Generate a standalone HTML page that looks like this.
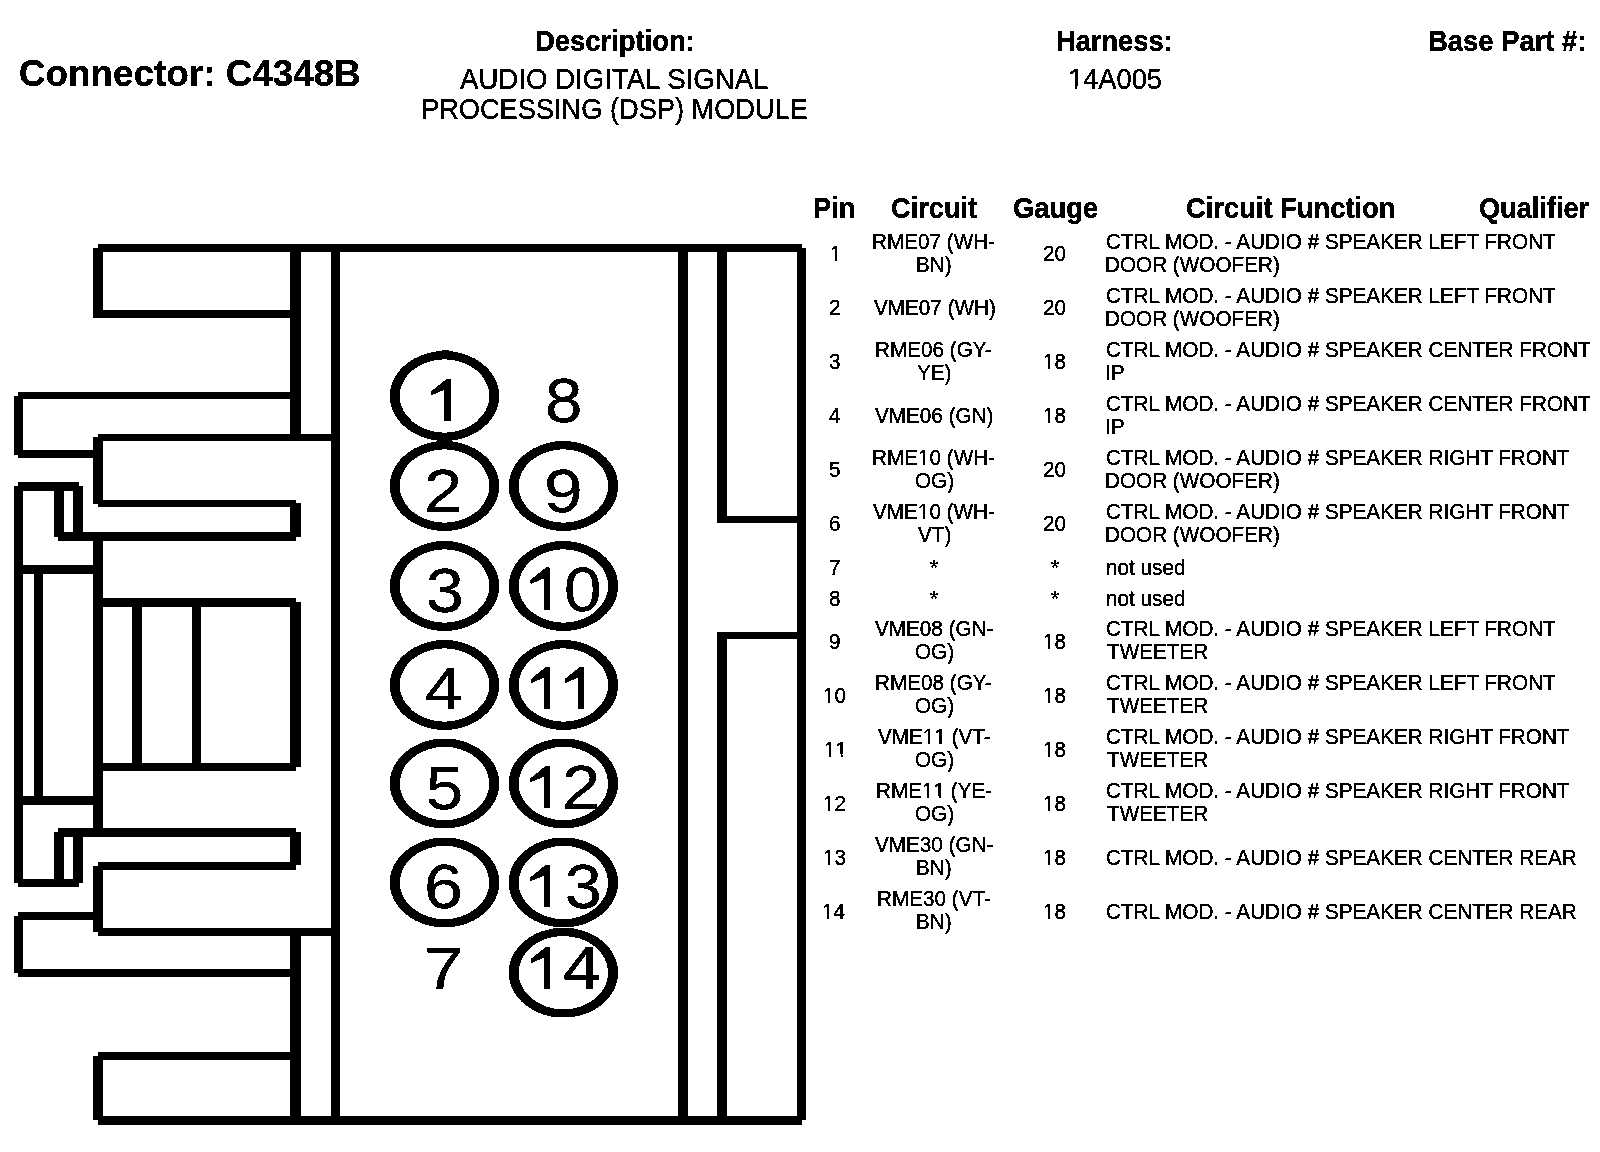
<!DOCTYPE html>
<html><head><meta charset="utf-8"><title>Connector C4348B</title>
<style>
html,body{margin:0;padding:0;background:#fff;}
body{width:1600px;height:1152px;position:relative;overflow:hidden;}
svg{position:absolute;left:0;top:0;}
.o{position:relative}.o::before,.o::after{content:'';position:absolute;background:#fff;bottom:0.16em;height:0.16em}.o::before{left:0.05em;width:0.22em}.o::after{left:0.325em;width:0.225em}
.t{position:absolute;font-family:"Liberation Sans",sans-serif;line-height:1;white-space:pre;color:#000;transform-origin:0 0;}
#pg{position:absolute;left:0;top:0;width:1600px;height:1152px;background:#fff;filter:url(#bw);}
</style></head><body>
<svg width="0" height="0" style="position:absolute"><filter id="bw" x="0" y="0" width="100%" height="100%" color-interpolation-filters="sRGB"><feComponentTransfer><feFuncR type="discrete" tableValues="0 0 0 1"/><feFuncG type="discrete" tableValues="0 0 0 1"/><feFuncB type="discrete" tableValues="0 0 0 1"/></feComponentTransfer></filter></svg>
<div id="pg">
<svg width="1600" height="1152" viewBox="0 0 1600 1152">
<rect x="98" y="244" width="704" height="8"/>
<rect x="98" y="1116" width="704" height="9"/>
<rect x="797" y="248" width="9" height="872"/>
<rect x="678" y="244" width="10" height="881"/>
<rect x="717" y="244" width="10" height="277"/>
<rect x="717" y="634" width="10" height="491"/>
<rect x="717" y="516" width="89" height="7"/>
<rect x="717" y="632" width="89" height="7"/>
<rect x="331" y="244" width="9" height="881"/>
<rect x="290" y="244" width="11" height="197"/>
<rect x="290" y="928" width="11" height="197"/>
<rect x="93" y="248" width="10" height="70"/>
<rect x="98" y="310" width="192" height="8"/>
<rect x="18" y="392" width="272" height="7"/>
<rect x="14" y="396" width="9" height="59"/>
<rect x="18" y="450" width="75" height="8"/>
<rect x="98" y="434" width="233" height="7"/>
<rect x="93" y="437" width="10" height="67"/>
<rect x="98" y="500" width="198" height="7"/>
<rect x="290" y="503" width="11" height="34"/>
<rect x="58" y="532" width="238" height="9"/>
<rect x="18" y="482" width="61" height="9"/>
<rect x="14" y="486" width="9" height="397"/>
<rect x="54" y="486" width="10" height="51"/>
<rect x="73" y="486" width="10" height="51"/>
<rect x="93" y="541" width="10" height="291"/>
<rect x="14" y="565" width="79" height="9"/>
<rect x="34" y="574" width="9" height="222"/>
<rect x="14" y="796" width="79" height="9"/>
<rect x="93" y="598" width="203" height="9"/>
<rect x="290" y="602" width="11" height="165"/>
<rect x="93" y="763" width="203" height="8"/>
<rect x="132" y="607" width="10" height="156"/>
<rect x="192" y="607" width="9" height="156"/>
<rect x="58" y="828" width="238" height="9"/>
<rect x="290" y="832" width="11" height="33"/>
<rect x="98" y="862" width="198" height="8"/>
<rect x="54" y="832" width="10" height="51"/>
<rect x="73" y="832" width="10" height="51"/>
<rect x="18" y="879" width="61" height="8"/>
<rect x="93" y="866" width="10" height="66"/>
<rect x="98" y="928" width="233" height="8"/>
<rect x="18" y="912" width="75" height="8"/>
<rect x="14" y="916" width="9" height="57"/>
<rect x="18" y="969" width="272" height="8"/>
<rect x="98" y="1052" width="192" height="8"/>
<rect x="93" y="1056" width="10" height="64"/>
<ellipse cx="444.5" cy="396" rx="54.5" ry="44.7"/>
<ellipse cx="444.5" cy="396" rx="45" ry="36.9" fill="#fff"/>
<ellipse cx="444.5" cy="486" rx="54.5" ry="44.7"/>
<ellipse cx="444.5" cy="486" rx="45" ry="36.9" fill="#fff"/>
<ellipse cx="444.5" cy="586" rx="54.5" ry="44.7"/>
<ellipse cx="444.5" cy="586" rx="45" ry="36.9" fill="#fff"/>
<ellipse cx="444.5" cy="685" rx="54.5" ry="44.7"/>
<ellipse cx="444.5" cy="685" rx="45" ry="36.9" fill="#fff"/>
<ellipse cx="444.5" cy="783.5" rx="54.5" ry="44.7"/>
<ellipse cx="444.5" cy="783.5" rx="45" ry="36.9" fill="#fff"/>
<ellipse cx="444.5" cy="882.5" rx="54.5" ry="44.7"/>
<ellipse cx="444.5" cy="882.5" rx="45" ry="36.9" fill="#fff"/>
<ellipse cx="563.4" cy="486" rx="54.5" ry="44.7"/>
<ellipse cx="563.4" cy="486" rx="45" ry="36.9" fill="#fff"/>
<ellipse cx="563.4" cy="586" rx="54.5" ry="44.7"/>
<ellipse cx="563.4" cy="586" rx="45" ry="36.9" fill="#fff"/>
<ellipse cx="563.4" cy="685" rx="54.5" ry="44.7"/>
<ellipse cx="563.4" cy="685" rx="45" ry="36.9" fill="#fff"/>
<ellipse cx="563.4" cy="783.5" rx="54.5" ry="44.7"/>
<ellipse cx="563.4" cy="783.5" rx="45" ry="36.9" fill="#fff"/>
<ellipse cx="563.4" cy="882.5" rx="54.5" ry="44.7"/>
<ellipse cx="563.4" cy="882.5" rx="45" ry="36.9" fill="#fff"/>
<ellipse cx="563.4" cy="972.6" rx="54.5" ry="44.7"/>
<ellipse cx="563.4" cy="972.6" rx="45" ry="36.9" fill="#fff"/>
<rect x="442" y="350" width="7" height="3"/>
<polygon points="446.70,379.00 450.60,379.00 450.60,420.90 444.60,420.90 444.60,389.60 431.50,395.00 431.50,391.30"/>
<polygon points="545.90,567.70 549.80,567.70 549.80,609.60 543.80,609.60 543.80,578.30 530.70,583.70 530.70,580.00"/>
<polygon points="546.10,667.00 550.00,667.00 550.00,708.90 544.00,708.90 544.00,677.60 530.90,683.00 530.90,679.30"/>
<polygon points="580.05,667.00 583.95,667.00 583.95,708.90 577.95,708.90 577.95,677.60 564.85,683.00 564.85,679.30"/>
<polygon points="545.90,766.00 549.80,766.00 549.80,807.90 543.80,807.90 543.80,776.60 530.70,782.00 530.70,778.30"/>
<polygon points="545.90,865.00 549.80,865.00 549.80,906.90 543.80,906.90 543.80,875.60 530.70,881.00 530.70,877.30"/>
<polygon points="546.00,947.00 549.90,947.00 549.90,988.90 543.90,988.90 543.90,957.60 530.80,963.00 530.80,959.30"/>
</svg>
<div class="t" style="left:18.74px;top:55.90px;font-size:36.48px;font-weight:bold;transform:scaleX(1.0101)">Connector: C4348B</div>
<div class="t" style="left:535.01px;top:27.25px;font-size:29.07px;font-weight:bold;transform:scaleX(0.9430)">Description:</div>
<div class="t" style="left:460.25px;top:65.00px;font-size:29.07px;font-weight:normal;transform:scaleX(0.9502)">AUDIO DIGITAL SIGNAL</div>
<div class="t" style="left:421.20px;top:95.00px;font-size:28.71px;font-weight:normal;transform:scaleX(0.9477)">PROCESSING (DSP) MODULE</div>
<div class="t" style="left:1055.62px;top:27.00px;font-size:29.07px;font-weight:bold;transform:scaleX(0.9375)">Harness:</div>
<div class="t" style="left:1067.70px;top:65.40px;font-size:28.63px;font-weight:normal;transform:scaleX(0.9521)"><span class="o">1</span>4A005</div>
<div class="t" style="left:1427.86px;top:27.00px;font-size:29.07px;font-weight:bold;transform:scaleX(0.9433)">Base Part #:</div>
<div class="t" style="left:812.88px;top:194.10px;font-size:29.07px;font-weight:bold;transform:scaleX(0.9369)">Pin</div>
<div class="t" style="left:891.16px;top:194.10px;font-size:29.07px;font-weight:bold;transform:scaleX(0.9357)">Circuit</div>
<div class="t" style="left:1012.81px;top:194.10px;font-size:29.07px;font-weight:bold;transform:scaleX(0.9410)">Gauge</div>
<div class="t" style="left:1185.96px;top:194.10px;font-size:29.07px;font-weight:bold;transform:scaleX(0.9402)">Circuit Function</div>
<div class="t" style="left:1478.77px;top:194.10px;font-size:29.07px;font-weight:bold;transform:scaleX(0.9342)">Qualifier</div>
<div class="t" style="left:423.57px;top:462.30px;font-size:60.17px;transform:scaleX(1.1429)">2</div>
<div class="t" style="left:425.53px;top:558.60px;font-size:62.65px;transform:scaleX(1.0833)">3</div>
<div class="t" style="left:424.86px;top:658.90px;font-size:59.3px;transform:scaleX(1.1400)">4</div>
<div class="t" style="left:425.53px;top:757.00px;font-size:61.63px;transform:scaleX(1.0833)">5</div>
<div class="t" style="left:423.57px;top:855.00px;font-size:63.08px;transform:scaleX(1.1100)">6</div>
<div class="t" style="left:424.00px;top:940.00px;font-size:59.01px;transform:scaleX(1.2000)">7</div>
<div class="t" style="left:544.53px;top:367.90px;font-size:63.66px;transform:scaleX(1.0567)">8</div>
<div class="t" style="left:544.30px;top:460.30px;font-size:61.34px;transform:scaleX(1.1321)">9</div>
<div class="t" style="left:563.66px;top:557.70px;font-size:62.94px;transform:scaleX(1.0710)">0</div>
<div class="t" style="left:562.13px;top:756.00px;font-size:63.08px;transform:scaleX(1.0897)">2</div>
<div class="t" style="left:564.51px;top:855.00px;font-size:63.08px;transform:scaleX(1.0452)">3</div>
<div class="t" style="left:562.88px;top:938.00px;font-size:61.05px;transform:scaleX(1.1210)">4</div>
<div class="t" style="left:829.90px;top:243.30px;font-size:22.5px;transform:scaleX(0.92)"><span class="o">1</span></div>
<div class="t" style="left:1043.20px;top:243.30px;font-size:22.5px;transform:scaleX(0.92)">20</div>
<div class="t" style="left:871.90px;top:231.10px;font-size:22.5px;transform:scaleX(0.92)">RME07 (WH-</div>
<div class="t" style="left:915.60px;top:253.60px;font-size:22.5px;transform:scaleX(0.92)">BN)</div>
<div class="t" style="left:1106.08px;top:231.10px;font-size:22.5px;transform:scaleX(0.92)">CTRL MOD. - AUDIO # SPEAKER LEFT FRONT</div>
<div class="t" style="left:1105.16px;top:253.60px;font-size:22.5px;transform:scaleX(0.92)">DOOR (WOOFER)</div>
<div class="t" style="left:828.52px;top:297.30px;font-size:22.5px;transform:scaleX(0.92)">2</div>
<div class="t" style="left:1043.20px;top:297.30px;font-size:22.5px;transform:scaleX(0.92)">20</div>
<div class="t" style="left:873.74px;top:297.30px;font-size:22.5px;transform:scaleX(0.92)">VME07 (WH)</div>
<div class="t" style="left:1106.08px;top:285.10px;font-size:22.5px;transform:scaleX(0.92)">CTRL MOD. - AUDIO # SPEAKER LEFT FRONT</div>
<div class="t" style="left:1105.16px;top:307.60px;font-size:22.5px;transform:scaleX(0.92)">DOOR (WOOFER)</div>
<div class="t" style="left:828.52px;top:351.30px;font-size:22.5px;transform:scaleX(0.92)">3</div>
<div class="t" style="left:1042.74px;top:351.30px;font-size:22.5px;transform:scaleX(0.92)"><span class="o">1</span>8</div>
<div class="t" style="left:875.12px;top:339.10px;font-size:22.5px;transform:scaleX(0.92)">RME06 (GY-</div>
<div class="t" style="left:916.98px;top:361.60px;font-size:22.5px;transform:scaleX(0.92)">YE)</div>
<div class="t" style="left:1106.08px;top:339.10px;font-size:22.5px;transform:scaleX(0.92)">CTRL MOD. - AUDIO # SPEAKER CENTER FRONT</div>
<div class="t" style="left:1105.16px;top:361.60px;font-size:22.5px;transform:scaleX(0.92)">IP</div>
<div class="t" style="left:828.98px;top:405.30px;font-size:22.5px;transform:scaleX(0.92)">4</div>
<div class="t" style="left:1042.74px;top:405.30px;font-size:22.5px;transform:scaleX(0.92)"><span class="o">1</span>8</div>
<div class="t" style="left:875.12px;top:405.30px;font-size:22.5px;transform:scaleX(0.92)">VME06 (GN)</div>
<div class="t" style="left:1106.08px;top:393.10px;font-size:22.5px;transform:scaleX(0.92)">CTRL MOD. - AUDIO # SPEAKER CENTER FRONT</div>
<div class="t" style="left:1105.16px;top:415.60px;font-size:22.5px;transform:scaleX(0.92)">IP</div>
<div class="t" style="left:828.52px;top:459.30px;font-size:22.5px;transform:scaleX(0.92)">5</div>
<div class="t" style="left:1043.20px;top:459.30px;font-size:22.5px;transform:scaleX(0.92)">20</div>
<div class="t" style="left:871.90px;top:447.10px;font-size:22.5px;transform:scaleX(0.92)">RME<span class="o">1</span>0 (WH-</div>
<div class="t" style="left:914.68px;top:469.60px;font-size:22.5px;transform:scaleX(0.92)">OG)</div>
<div class="t" style="left:1106.08px;top:447.10px;font-size:22.5px;transform:scaleX(0.92)">CTRL MOD. - AUDIO # SPEAKER RIGHT FRONT</div>
<div class="t" style="left:1105.16px;top:469.60px;font-size:22.5px;transform:scaleX(0.92)">DOOR (WOOFER)</div>
<div class="t" style="left:828.52px;top:513.30px;font-size:22.5px;transform:scaleX(0.92)">6</div>
<div class="t" style="left:1043.20px;top:513.30px;font-size:22.5px;transform:scaleX(0.92)">20</div>
<div class="t" style="left:873.28px;top:501.10px;font-size:22.5px;transform:scaleX(0.92)">VME<span class="o">1</span>0 (WH-</div>
<div class="t" style="left:917.90px;top:523.60px;font-size:22.5px;transform:scaleX(0.92)">VT)</div>
<div class="t" style="left:1106.08px;top:501.10px;font-size:22.5px;transform:scaleX(0.92)">CTRL MOD. - AUDIO # SPEAKER RIGHT FRONT</div>
<div class="t" style="left:1105.16px;top:523.60px;font-size:22.5px;transform:scaleX(0.92)">DOOR (WOOFER)</div>
<div class="t" style="left:828.52px;top:557.00px;font-size:22.5px;transform:scaleX(0.92)">7</div>
<div class="t" style="left:1051.02px;top:557.00px;font-size:22.5px;transform:scaleX(0.92)">*</div>
<div class="t" style="left:930.32px;top:557.00px;font-size:22.5px;transform:scaleX(0.92)">*</div>
<div class="t" style="left:1106.08px;top:557.00px;font-size:22.5px;transform:scaleX(0.92)">not used</div>
<div class="t" style="left:828.52px;top:587.50px;font-size:22.5px;transform:scaleX(0.92)">8</div>
<div class="t" style="left:1051.02px;top:587.50px;font-size:22.5px;transform:scaleX(0.92)">*</div>
<div class="t" style="left:930.32px;top:587.50px;font-size:22.5px;transform:scaleX(0.92)">*</div>
<div class="t" style="left:1106.08px;top:587.50px;font-size:22.5px;transform:scaleX(0.92)">not used</div>
<div class="t" style="left:828.52px;top:630.50px;font-size:22.5px;transform:scaleX(0.92)">9</div>
<div class="t" style="left:1042.74px;top:630.50px;font-size:22.5px;transform:scaleX(0.92)"><span class="o">1</span>8</div>
<div class="t" style="left:875.12px;top:618.30px;font-size:22.5px;transform:scaleX(0.92)">VME08 (GN-</div>
<div class="t" style="left:914.68px;top:640.80px;font-size:22.5px;transform:scaleX(0.92)">OG)</div>
<div class="t" style="left:1106.08px;top:618.30px;font-size:22.5px;transform:scaleX(0.92)">CTRL MOD. - AUDIO # SPEAKER LEFT FRONT</div>
<div class="t" style="left:1107.00px;top:640.80px;font-size:22.5px;transform:scaleX(0.92)">TWEETER</div>
<div class="t" style="left:822.54px;top:684.50px;font-size:22.5px;transform:scaleX(0.92)"><span class="o">1</span>0</div>
<div class="t" style="left:1042.74px;top:684.50px;font-size:22.5px;transform:scaleX(0.92)"><span class="o">1</span>8</div>
<div class="t" style="left:875.12px;top:672.30px;font-size:22.5px;transform:scaleX(0.92)">RME08 (GY-</div>
<div class="t" style="left:914.68px;top:694.80px;font-size:22.5px;transform:scaleX(0.92)">OG)</div>
<div class="t" style="left:1106.08px;top:672.30px;font-size:22.5px;transform:scaleX(0.92)">CTRL MOD. - AUDIO # SPEAKER LEFT FRONT</div>
<div class="t" style="left:1107.00px;top:694.80px;font-size:22.5px;transform:scaleX(0.92)">TWEETER</div>
<div class="t" style="left:824.38px;top:738.50px;font-size:22.5px;transform:scaleX(0.92)"><span class="o">1</span><span class="o">1</span></div>
<div class="t" style="left:1042.74px;top:738.50px;font-size:22.5px;transform:scaleX(0.92)"><span class="o">1</span>8</div>
<div class="t" style="left:877.88px;top:726.30px;font-size:22.5px;transform:scaleX(0.92)">VME<span class="o">1</span><span class="o">1</span> (VT-</div>
<div class="t" style="left:914.68px;top:748.80px;font-size:22.5px;transform:scaleX(0.92)">OG)</div>
<div class="t" style="left:1106.08px;top:726.30px;font-size:22.5px;transform:scaleX(0.92)">CTRL MOD. - AUDIO # SPEAKER RIGHT FRONT</div>
<div class="t" style="left:1107.00px;top:748.80px;font-size:22.5px;transform:scaleX(0.92)">TWEETER</div>
<div class="t" style="left:822.54px;top:792.50px;font-size:22.5px;transform:scaleX(0.92)"><span class="o">1</span>2</div>
<div class="t" style="left:1042.74px;top:792.50px;font-size:22.5px;transform:scaleX(0.92)"><span class="o">1</span>8</div>
<div class="t" style="left:875.58px;top:780.30px;font-size:22.5px;transform:scaleX(0.92)">RME<span class="o">1</span><span class="o">1</span> (YE-</div>
<div class="t" style="left:914.68px;top:802.80px;font-size:22.5px;transform:scaleX(0.92)">OG)</div>
<div class="t" style="left:1106.08px;top:780.30px;font-size:22.5px;transform:scaleX(0.92)">CTRL MOD. - AUDIO # SPEAKER RIGHT FRONT</div>
<div class="t" style="left:1107.00px;top:802.80px;font-size:22.5px;transform:scaleX(0.92)">TWEETER</div>
<div class="t" style="left:822.54px;top:846.50px;font-size:22.5px;transform:scaleX(0.92)"><span class="o">1</span>3</div>
<div class="t" style="left:1042.74px;top:846.50px;font-size:22.5px;transform:scaleX(0.92)"><span class="o">1</span>8</div>
<div class="t" style="left:875.12px;top:834.30px;font-size:22.5px;transform:scaleX(0.92)">VME30 (GN-</div>
<div class="t" style="left:915.60px;top:856.80px;font-size:22.5px;transform:scaleX(0.92)">BN)</div>
<div class="t" style="left:1106.08px;top:846.50px;font-size:22.5px;transform:scaleX(0.92)">CTRL MOD. - AUDIO # SPEAKER CENTER REAR</div>
<div class="t" style="left:822.08px;top:900.50px;font-size:22.5px;transform:scaleX(0.92)"><span class="o">1</span>4</div>
<div class="t" style="left:1042.74px;top:900.50px;font-size:22.5px;transform:scaleX(0.92)"><span class="o">1</span>8</div>
<div class="t" style="left:876.50px;top:888.30px;font-size:22.5px;transform:scaleX(0.92)">RME30 (VT-</div>
<div class="t" style="left:915.60px;top:910.80px;font-size:22.5px;transform:scaleX(0.92)">BN)</div>
<div class="t" style="left:1106.08px;top:900.50px;font-size:22.5px;transform:scaleX(0.92)">CTRL MOD. - AUDIO # SPEAKER CENTER REAR</div>
</div>
</body></html>
